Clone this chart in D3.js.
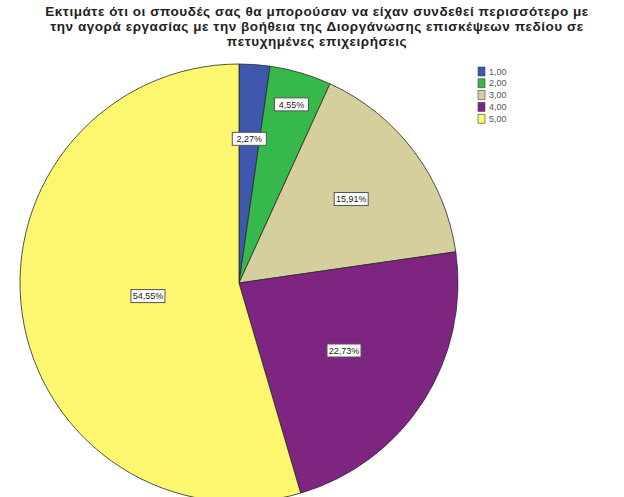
<!DOCTYPE html>
<html>
<head>
<meta charset="utf-8">
<script src="https://cdn.jsdelivr.net/npm/d3@7"></script>
<style>
  body { margin: 0; background: #fff; }
  svg { display: block; }
</style>
</head>
<body>
<div id="chart"></div>
<script>
// chart data
const categories = ["1,00", "2,00", "3,00", "4,00", "5,00"];
const percents = [2.27, 4.55, 15.91, 22.73, 54.55];
const titleLines = [
    "Εκτιμάτε ότι οι σπουδές σας θα μπορούσαν να είχαν συνδεθεί περισσότερο με",
    "την αγορά εργασίας με την βοήθεια της Διοργάνωσης επισκέψεων πεδίου σε",
    "πετυχημένες επιχειρήσεις"
];

// layout / style
const width = 624;
const height = 497;
const colors = ["#3d58ad", "#36b84a", "#d5cf9d", "#7e2581", "#fcf76f"];
const labelRadius = [0.66, 0.85, 0.64, 0.57, 0.42]; // fraction of radius for each label
const cx = 239, cy = 283, r = 219;

const svg = d3.select('#chart').append('svg')
    .attr('width', width)
    .attr('height', height);

// title
svg.append('g')
    .selectAll('text')
    .data(titleLines)
    .join('text')
    .attr('x', 317)
    .attr('y', (d, i) => 16 + i * 15)
    .attr('text-anchor', 'middle')
    .attr('font-family', 'Liberation Sans, Arial, sans-serif')
    .attr('font-weight', 'bold')
    .attr('font-size', 13.5)
    .attr('letter-spacing', 0.55)
    .attr('fill', '#222')
    .text(d => d);

const data = categories.map((c, i) => ({ cat: c, value: percents[i], i: i }));

const pie = d3.pie().value(d => d.value).sort(null);
const arc = d3.arc().innerRadius(0).outerRadius(r);
const arcs = pie(data);

const g = svg.append('g').attr('transform', `translate(${cx},${cy})`);

g.selectAll('path')
    .data(arcs)
    .join('path')
    .attr('d', arc)
    .attr('fill', d => colors[d.data.i])
    .attr('stroke', '#2a2a2a')
    .attr('stroke-width', 0.8);

// value labels
const fmt = v => d3.format('.2f')(v).replace('.', ',') + '%';
const labels = g.selectAll('g.lbl')
    .data(arcs)
    .join('g')
    .attr('class', 'lbl')
    .attr('transform', d => {
        const a = (d.startAngle + d.endAngle) / 2;
        const rr = r * labelRadius[d.data.i];
        return `translate(${Math.sin(a) * rr},${-Math.cos(a) * rr})`;
    });

labels.append('rect')
    .attr('x', -17)
    .attr('y', -6.5)
    .attr('width', 34)
    .attr('height', 13)
    .attr('fill', '#fff')
    .attr('stroke', '#555')
    .attr('stroke-width', 1);

labels.append('text')
    .attr('text-anchor', 'middle')
    .attr('dy', '0.35em')
    .attr('font-family', 'Liberation Sans, Arial, sans-serif')
    .attr('font-size', 9)
    .attr('fill', '#222')
    .text(d => fmt(d.data.value));

// legend
const legend = svg.append('g').attr('transform', 'translate(478,67)');
const rows = legend.selectAll('g')
    .data(categories)
    .join('g')
    .attr('transform', (d, i) => `translate(0,${i * 11.8})`);

rows.append('rect')
    .attr('width', 7)
    .attr('height', 9)
    .attr('fill', (d, i) => colors[i])
    .attr('stroke', '#444')
    .attr('stroke-width', 0.6);

rows.append('text')
    .attr('x', 11)
    .attr('y', 4.5)
    .attr('dy', '0.35em')
    .attr('font-family', 'Liberation Sans, Arial, sans-serif')
    .attr('font-size', 9)
    .attr('fill', '#555')
    .text(d => d);
</script>
</body>
</html>
